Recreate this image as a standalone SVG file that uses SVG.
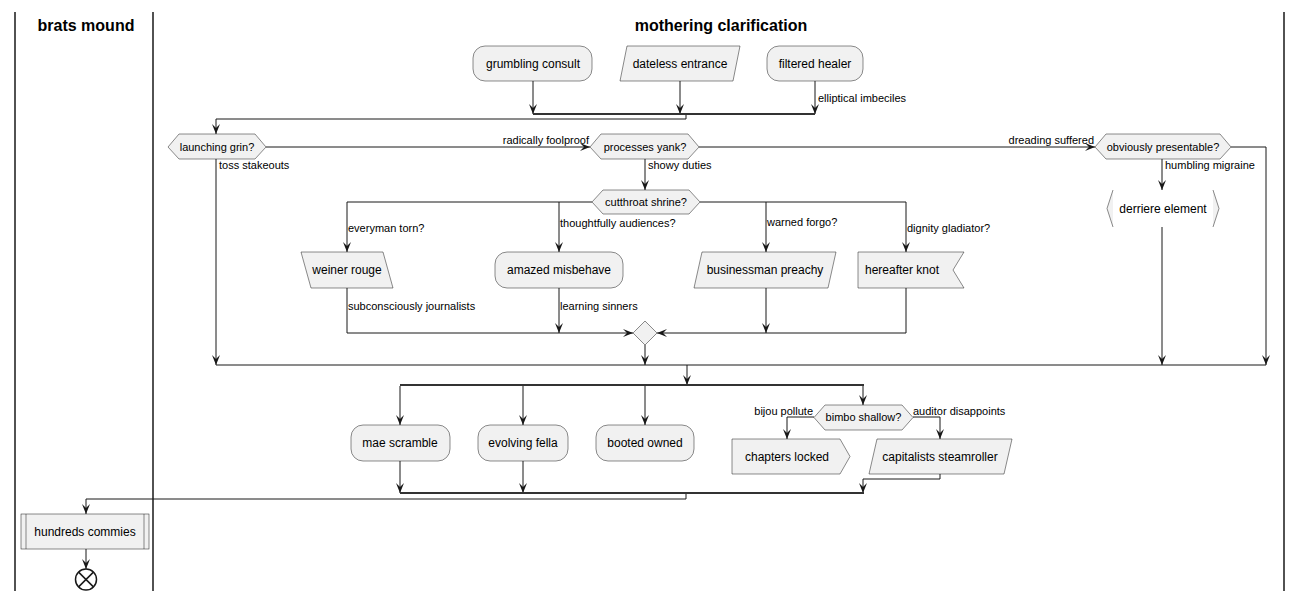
<svg xmlns="http://www.w3.org/2000/svg" width="1303" height="600" viewBox="0 0 1303 600">
<style>
.node{fill:#F1F1F1;stroke:#181818;stroke-width:0.5}
.t{font-family:"Liberation Sans",Arial,sans-serif;font-size:12px;fill:#000;text-anchor:middle}
.h{font-size:11px}
.lbl{font-family:"Liberation Sans",Arial,sans-serif;font-size:11px;fill:#000}
.end{text-anchor:end}
.e{fill:none;stroke:#181818;stroke-width:1}
.a{marker-end:url(#ah)}
.bar{fill:none;stroke:#333;stroke-width:2.2}
.lane{stroke:#181818;stroke-width:1.5}
.title{font-family:"Liberation Sans",Arial,sans-serif;font-size:16px;font-weight:bold;fill:#000;text-anchor:middle}
</style>
<defs>
<marker id="ah" viewBox="-11 -5 12 10" refX="0" refY="0" markerWidth="12" markerHeight="10" markerUnits="userSpaceOnUse" orient="auto">
<path d="M0,0 L-10,-4 L-6,0 L-10,4 Z" fill="#181818"/>
</marker>
</defs>
<rect x="0" y="0" width="1303" height="600" fill="#FFFFFF"/>
<g id="lanes">
<line class="lane" x1="15" y1="12" x2="15" y2="591"/>
<line class="lane" x1="153" y1="12" x2="153" y2="591"/>
<line class="lane" x1="1284" y1="12" x2="1284" y2="591"/>
<text class="title" x="86" y="31">brats mound</text>
<text class="title" x="721" y="31">mothering clarification</text>
</g>
<g id="connectors">
<path class="e a" d="M533,81 V114"/>
<path class="e a" d="M680,81 V114"/>
<path class="e a" d="M815,81 V114"/>
<path class="bar" d="M533,114 H815"/>
<path class="e a" d="M686,115 V119 H216 V134"/>
<path class="e a" d="M266,147 H590"/>
<path class="e a" d="M699,147 H1095"/>
<path class="e a" d="M216,159 V365"/>
<path class="e a" d="M645,159 V190"/>
<path class="e a" d="M1162,159 V190"/>
<path class="e a" d="M1231,147 H1266 V365"/>
<path class="e a" d="M592,202 H347 V252"/>
<path class="e a" d="M559,202 V252"/>
<path class="e a" d="M700,202 H906 V252"/>
<path class="e a" d="M766,202 V252"/>
<path class="e a" d="M347,288 V333 H633"/>
<path class="e a" d="M559,288 V333"/>
<path class="e a" d="M766,288 V333"/>
<path class="e a" d="M906,288 V333 H657"/>
<path class="e a" d="M645,345 V365"/>
<path class="e a" d="M1162,227 V365"/>
<path class="e" d="M216,365 H1266"/>
<path class="e a" d="M687,365 V385"/>
<path class="bar" d="M400,385 H864"/>
<path class="e a" d="M400,386 V425"/>
<path class="e a" d="M523,386 V425"/>
<path class="e a" d="M645,386 V425"/>
<path class="e a" d="M863,386 V405"/>
<path class="e a" d="M814,417 H787 V439"/>
<path class="e a" d="M913,417 H940 V439"/>
<path class="e a" d="M400,461 V493"/>
<path class="e a" d="M523,461 V493"/>
<path class="e a" d="M940,474 V479 H863 V493"/>
<path class="bar" d="M400,493 H864"/>
<path class="e a" d="M686,494 V499 H86 V514"/>
<path class="e a" d="M86,549 V569"/>
<text class="lbl" x="818" y="102">elliptical imbeciles</text>
<text class="lbl end" x="589" y="144">radically foolproof</text>
<text class="lbl end" x="1094" y="144">dreading suffered</text>
<text class="lbl" x="219" y="169">toss stakeouts</text>
<text class="lbl" x="648" y="169">showy duties</text>
<text class="lbl" x="1165" y="169">humbling migraine</text>
<text class="lbl" x="348" y="232">everyman torn?</text>
<text class="lbl" x="560" y="227">thoughtfully audiences?</text>
<text class="lbl" x="767" y="226">warned forgo?</text>
<text class="lbl" x="907" y="232">dignity gladiator?</text>
<text class="lbl" x="348" y="310">subconsciously journalists</text>
<text class="lbl" x="560" y="310">learning sinners</text>
<text class="lbl end" x="813" y="415">bijou pollute</text>
<text class="lbl" x="913" y="415">auditor disappoints</text>
</g>
<g id="grumbling-consult">
<rect class="node" x="473" y="46" width="119" height="35" rx="12"/>
<text class="t" x="533" y="67.5">grumbling consult</text>
</g>
<g id="dateless-entrance">
<polygon class="node" points="627,46 740,46 733,81 620,81"/>
<text class="t" x="680" y="67.5">dateless entrance</text>
</g>
<g id="filtered-healer">
<rect class="node" x="767" y="46" width="96" height="35" rx="12"/>
<text class="t" x="815" y="67.5">filtered healer</text>
</g>
<g id="launching-grin">
<polygon class="node" points="168,147 179,134 255,134 266,147 255,159 179,159"/>
<text class="t h" x="217" y="150.5">launching grin?</text>
</g>
<g id="processes-yank">
<polygon class="node" points="590,147 601,134 688,134 699,147 688,159 601,159"/>
<text class="t h" x="645" y="150.5">processes yank?</text>
</g>
<g id="obviously-presentable">
<polygon class="node" points="1095,147 1106,134 1220,134 1231,147 1220,159 1106,159"/>
<text class="t h" x="1163" y="150.5">obviously presentable?</text>
</g>
<g id="derriere-element">
<polygon points="1113,190 1107,208.5 1113,227" fill="#F1F1F1" stroke="none"/>
<polygon points="1213,190 1219,208.5 1213,227" fill="#F1F1F1" stroke="none"/>
<polyline points="1113,190 1107,208.5 1113,227" fill="none" stroke="#181818" stroke-width="0.5"/>
<polyline points="1213,190 1219,208.5 1213,227" fill="none" stroke="#181818" stroke-width="0.5"/>
<text class="t" x="1163" y="212.5">derriere element</text>
</g>
<g id="cutthroat-shrine">
<polygon class="node" points="592,202 603,190 689,190 700,202 689,214 603,214"/>
<text class="t h" x="646" y="205.5">cutthroat shrine?</text>
</g>
<g id="weiner-rouge">
<polygon class="node" points="301,252 383,252 393,288 311,288"/>
<text class="t" x="347" y="274">weiner rouge</text>
</g>
<g id="amazed-misbehave">
<rect class="node" x="495" y="252" width="128" height="36" rx="12"/>
<text class="t" x="559" y="274">amazed misbehave</text>
</g>
<g id="businessman-preachy">
<polygon class="node" points="702,252 836,252 828,288 694,288"/>
<text class="t" x="765" y="274">businessman preachy</text>
</g>
<g id="hereafter-knot">
<polygon class="node" points="858,252 964,252 953,270 964,288 858,288"/>
<text class="t" x="902" y="274">hereafter knot</text>
</g>
<g id="merge-diamond">
<polygon class="node" points="645,321 657,333 645,345 633,333"/>
</g>
<g id="mae-scramble">
<rect class="node" x="351" y="425" width="99" height="36" rx="12"/>
<text class="t" x="400" y="447">mae scramble</text>
</g>
<g id="evolving-fella">
<rect class="node" x="478" y="425" width="90" height="36" rx="12"/>
<text class="t" x="523" y="447">evolving fella</text>
</g>
<g id="booted-owned">
<rect class="node" x="596" y="425" width="98" height="36" rx="12"/>
<text class="t" x="645" y="447">booted owned</text>
</g>
<g id="bimbo-shallow">
<polygon class="node" points="814,417.5 825,405 902,405 913,417.5 902,430 825,430"/>
<text class="t h" x="863.5" y="421">bimbo shallow?</text>
</g>
<g id="chapters-locked">
<polygon class="node" points="732,439 840,439 850,456.5 840,474 732,474"/>
<text class="t" x="787" y="461">chapters locked</text>
</g>
<g id="capitalists-steamroller">
<polygon class="node" points="877,439 1012,439 1004,474 869,474"/>
<text class="t" x="940" y="461">capitalists steamroller</text>
</g>
<g id="hundreds-commies">
<rect class="node" x="21" y="514" width="128" height="35"/>
<line x1="26" y1="514" x2="26" y2="549" stroke="#181818" stroke-width="0.5"/>
<line x1="144" y1="514" x2="144" y2="549" stroke="#181818" stroke-width="0.5"/>
<text class="t" x="85" y="536">hundreds commies</text>
</g>
<g id="end">
<circle cx="86" cy="579.5" r="10.5" fill="none" stroke="#181818" stroke-width="1.5"/>
<line x1="78.6" y1="572.1" x2="93.4" y2="586.9" stroke="#181818" stroke-width="1.5"/>
<line x1="93.4" y1="572.1" x2="78.6" y2="586.9" stroke="#181818" stroke-width="1.5"/>
</g>
</svg>
